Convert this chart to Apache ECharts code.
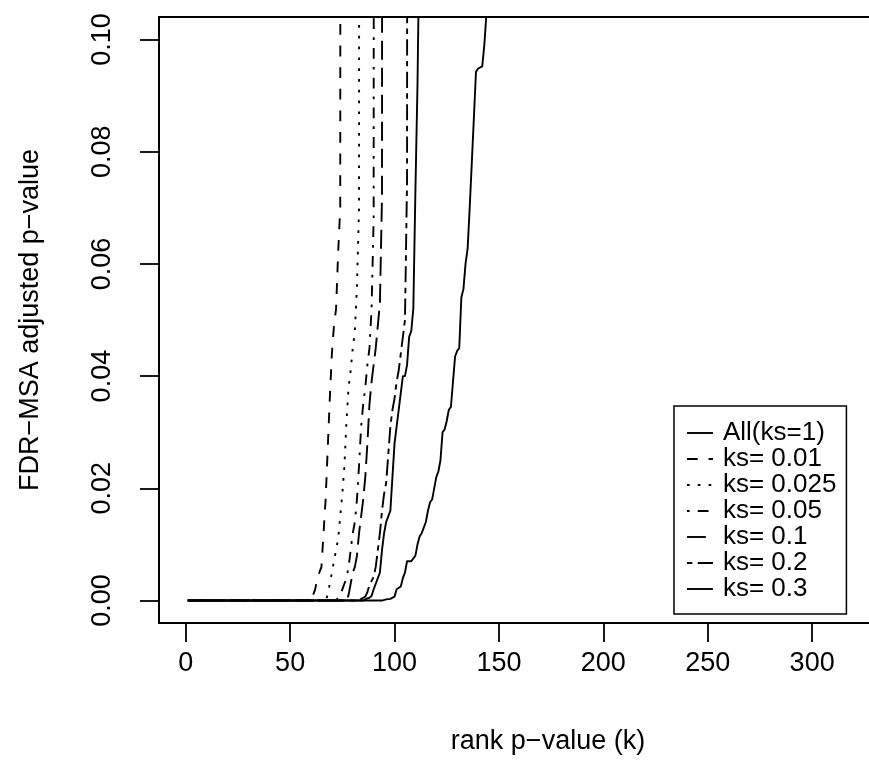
<!DOCTYPE html>
<html>
<head>
<meta charset="utf-8">
<script src="https://cdn.jsdelivr.net/npm/echarts@6/dist/echarts.min.js"></script>
<style>html,body{margin:0;padding:0;background:#fff;}#c{width:869px;height:776px;}</style>
</head>
<body>
<div id="c"></div>
<script>
// ---- data ----
const xTicks = [0, 50, 100, 150, 200, 250, 300];
const yTicks = [0, 0.02, 0.04, 0.06, 0.08, 0.10];
const seriesNames = ['All(ks=1)', 'ks= 0.01', 'ks= 0.025', 'ks= 0.05', 'ks= 0.1', 'ks= 0.2', 'ks= 0.3'];

const rankAll = [1, 94, 96, 98, 100, 101, 103, 104, 105, 106, 108, 110, 111, 112, 113, 114, 115, 116, 117, 118, 119, 120, 121, 122, 123, 124, 125, 126, 127, 128, 129, 130, 131, 132, 133, 134, 135, 136, 137, 138, 139, 140, 141, 142, 143, 144, 145];
const valAll  = [0, 0, 0.0002, 0.0003, 0.0007, 0.002, 0.0025, 0.004, 0.005, 0.007, 0.007, 0.008, 0.010, 0.0114, 0.012, 0.013, 0.014, 0.016, 0.0175, 0.018, 0.020, 0.022, 0.023, 0.025, 0.030, 0.0305, 0.032, 0.034, 0.0345, 0.039, 0.0435, 0.0445, 0.045, 0.054, 0.0555, 0.060, 0.0627, 0.070, 0.078, 0.086, 0.0942, 0.0948, 0.095, 0.0952, 0.099, 0.1045, 1];

const rank001 = [1, 60, 61, 62, 63, 64, 65, 66, 67, 68, 69, 70, 71, 72, 73, 74, 75];
const val001  = [0, 0, 0.001, 0.002, 0.004, 0.005, 0.006, 0.012, 0.018, 0.027, 0.036, 0.044, 0.049, 0.052, 0.062, 0.070, 1];

const rank0025 = [1, 67, 68, 69, 70, 71, 72, 73, 74, 75, 76, 77, 78, 79, 80, 81, 82, 83, 84];
const val0025  = [0, 0, 0.001, 0.003, 0.005, 0.007, 0.009, 0.011, 0.015, 0.019, 0.024, 0.032, 0.038, 0.041, 0.045, 0.048, 0.056, 0.070, 1];

const rank005 = [1, 72, 73, 74, 75, 76, 77, 78, 79, 80, 81, 82, 83, 84, 85, 86, 87, 88, 89, 90, 91];
const val005  = [0, 0, 0.0005, 0.001, 0.002, 0.003, 0.004, 0.006, 0.009, 0.012, 0.014, 0.018, 0.024, 0.031, 0.035, 0.038, 0.042, 0.045, 0.052, 0.068, 1];

const rank01 = [1, 77, 78, 79, 80, 81, 82, 83, 84, 85, 86, 87, 88, 89, 90, 91, 92, 93, 94, 95];
const val01  = [0, 0, 0.001, 0.003, 0.005, 0.006, 0.008, 0.012, 0.015, 0.018, 0.022, 0.028, 0.035, 0.039, 0.042, 0.045, 0.049, 0.053, 0.072, 1];

const rank02 = [1, 83, 84, 85, 86, 87, 88, 89, 90, 91, 92, 93, 94, 95, 96, 97, 98, 99, 100, 101, 102, 103, 104, 105, 106, 107];
const val02  = [0, 0, 0.0003, 0.0005, 0.0007, 0.0015, 0.0028, 0.0035, 0.0042, 0.006, 0.009, 0.012, 0.016, 0.019, 0.021, 0.026, 0.031, 0.034, 0.036, 0.039, 0.041, 0.044, 0.047, 0.050, 0.075, 1];

const rank03 = [1, 85, 86, 87, 88, 89, 90, 91, 92, 93, 94, 95, 96, 97, 98, 99, 100, 101, 102, 103, 104, 105, 106, 107, 108, 109, 110, 111, 112, 113];
const val03  = [0, 0, 0.0002, 0.0004, 0.0005, 0.0008, 0.002, 0.003, 0.004, 0.005, 0.009, 0.012, 0.014, 0.015, 0.016, 0.022, 0.028, 0.031, 0.034, 0.037, 0.040, 0.040, 0.042, 0.047, 0.048, 0.052, 0.073, 0.092, 0.12, 1];

// ---- build ----
const U = 2.7; // R dash unit in px
const dashTypes = [
  'solid',
  [4 * U, 4 * U],
  [1 * U, 3 * U],
  [1 * U, 3 * U, 4 * U, 3 * U],
  [7 * U, 3 * U],
  [2 * U, 2 * U, 6 * U, 2 * U],
  'solid'
];
const ranks = [rankAll, rank001, rank0025, rank005, rank01, rank02, rank03];
const vals = [valAll, val001, val0025, val005, val01, val02, val03];

function pairs(r, v) { return r.map((x, i) => [x, v[i]]); }

const FONT = 'Liberation Sans, Arial, Helvetica, sans-serif';
const series = seriesNames.map((name, i) => ({
  name: name,
  type: 'line',
  data: pairs(ranks[i], vals[i]),
  symbol: 'none',
  showSymbol: false,
  clip: true,
  silent: true,
  color: '#000',
  itemStyle: { color: '#000' },
  lineStyle: { color: '#000', width: 1.9, type: dashTypes[i], cap: 'butt', join: 'round' },
  z: 3
}));

const chart = echarts.init(document.getElementById('c'), null, { renderer: 'canvas' });
chart.setOption({
  animation: false,
  backgroundColor: '#fff',
  textStyle: { fontFamily: FONT, color: '#000' },
  grid: {
    left: 159, top: 17, width: 778, height: 606,
    show: true, borderColor: '#000', borderWidth: 1.8, backgroundColor: 'transparent',
    containLabel: false, outerBoundsMode: 'none'
  },
  xAxis: {
    type: 'value', min: -12.8, max: 359.8,
    position: 'bottom',
    name: 'rank p\u2212value (k)', nameLocation: 'middle', nameGap: 105,
    nameTextStyle: { fontSize: 27, color: '#000', fontFamily: FONT },
    axisLine: { show: true, onZero: false, lineStyle: { color: '#000', width: 1.8 } },
    axisTick: { show: true, inside: false, length: 19, customValues: xTicks, lineStyle: { color: '#000', width: 1.8 } },
    axisLabel: { show: true, margin: 27, fontSize: 27, color: '#000', fontFamily: FONT, customValues: xTicks, formatter: v => String(v) },
    splitLine: { show: false }
  },
  yAxis: {
    type: 'value', min: -0.004, max: 0.104,
    name: 'FDR\u2212MSA adjusted p\u2212value', nameLocation: 'middle', nameGap: 115, nameRotate: 90,
    nameTextStyle: { fontSize: 27, color: '#000', fontFamily: FONT },
    axisLine: { show: true, onZero: false, lineStyle: { color: '#000', width: 1.8 } },
    axisTick: { show: true, inside: false, length: 19, customValues: yTicks, lineStyle: { color: '#000', width: 1.8 } },
    axisLabel: { show: true, rotate: 90, margin: 43, fontSize: 27, color: '#000', fontFamily: FONT, customValues: yTicks, formatter: v => v.toFixed(2) },
    splitLine: { show: false }
  },
  legend: {
    show: true, orient: 'vertical', left: 674, top: 406,
    padding: [14, 10, 12, 12], itemGap: 0, itemWidth: 26, itemHeight: 23,
    borderColor: '#000', borderWidth: 1.5, backgroundColor: '#fff',
    selectedMode: false,
    data: seriesNames,
    itemStyle: { opacity: 0, borderWidth: 0 },
    lineStyle: { width: 1.9, color: '#000' },
    textStyle: { fontSize: 26, lineHeight: 23, color: '#000', fontFamily: FONT, padding: [0, 0, 0, 5] }
  },
  series: series
});
</script>
</body>
</html>
